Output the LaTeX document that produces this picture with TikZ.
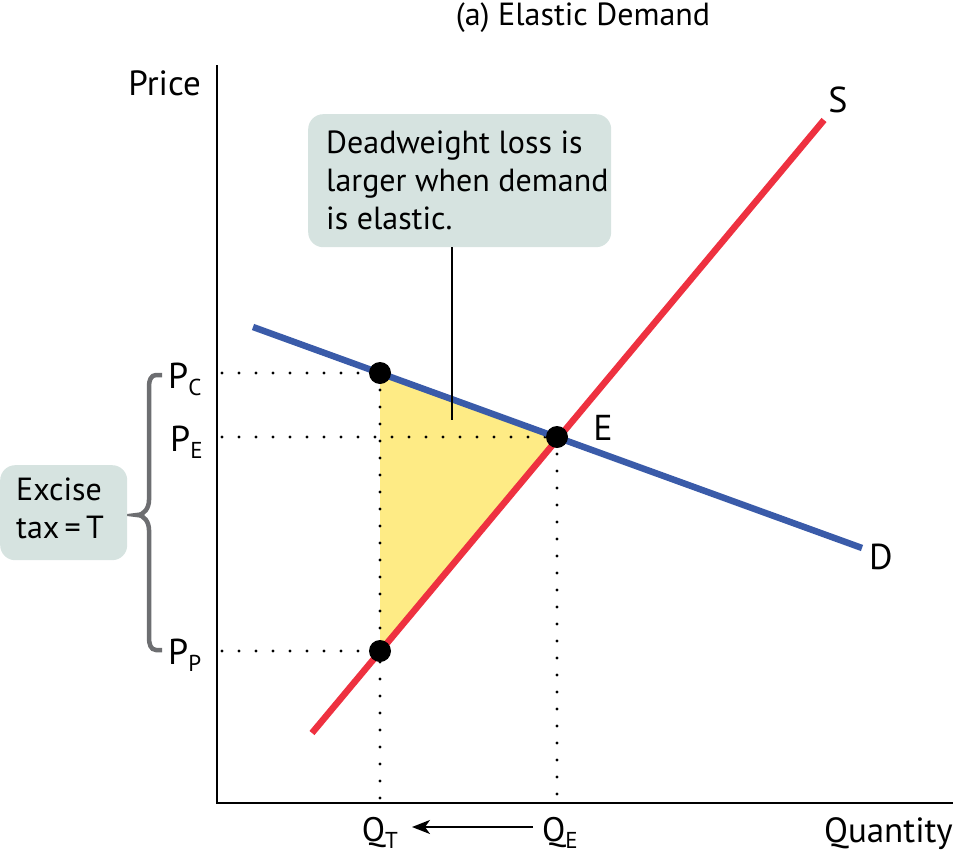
\documentclass[tikz,border=0pt]{standalone}
\usepackage{fontspec}
\setmainfont{PT Sans}
\usetikzlibrary{arrows.meta}
\definecolor{boxfill}{HTML}{D6E3E0}
\definecolor{supred}{HTML}{EE3140}
\definecolor{demblue}{HTML}{3A5BA9}
\definecolor{dwyellow}{HTML}{FEEB85}
\definecolor{bracegray}{HTML}{6D6E71}
\newcommand{\subsc}[1]{\raisebox{-7pt}{\fontsize{23}{24}\selectfont #1}}
\tikzset{
  lbl/.style={font=\fontsize{32}{36}\selectfont, inner sep=0pt},
  biglbl/.style={font=\fontsize{36}{40}\selectfont, inner sep=0pt},
  dotline/.style={line width=3.2pt, line cap=round, dash pattern=on 0pt off 17pt},
  ptdot/.style={circle, fill=black, minimum size=22pt, inner sep=0pt},
  callout/.style={fill=boxfill, rounded corners=15pt, draw=none}
}
\begin{document}
\begin{tikzpicture}[x=1pt,y=-1pt]
\useasboundingbox (0,0) rectangle (954,862);
% title
\node[lbl] (title) at (583,18) {(a) Elastic Demand};
% axes
\coordinate (o) at (217,803);
\coordinate (ytop) at (217,65);
\coordinate (xend) at (953,803);
\draw[line width=1.6pt] (ytop) -- (o) -- (xend);
\node[biglbl, font=\fontsize{35}{40}\selectfont, anchor=base east] (price) at (201,95) {Price};
\node[biglbl, font=\fontsize{35}{40}\selectfont, anchor=base east] (quantity) at (953,842) {Quantity};
% key points
\coordinate (Pc) at (380,373);
\coordinate (E) at (557,437);
\coordinate (Pp) at (380,651);
% triangle
\fill[dwyellow] (Pc) -- (E) -- (Pp) -- cycle;
% dotted lines
\coordinate (yc) at (222,373);
\coordinate (ye) at (222,437);
\coordinate (yp) at (222,651);
\coordinate (qt) at (380,803);
\coordinate (qe) at (557,803);
\draw[dotline] (yc) -- (Pc);
\draw[dotline] (ye) -- (E);
\draw[dotline] (yp) -- (Pp);
\draw[dotline] (Pc) -- (qt);
\draw[dotline] (E) -- (qe);
% curves
\coordinate (S0) at (312,733);
\coordinate (S1) at (824,120);
\coordinate (D0) at (253,327);
\coordinate (D1) at (862,548);
\draw[demblue, line width=6.5pt] (D0) -- (D1);
\draw[supred, line width=6.5pt] (S0) -- (S1);
\node[biglbl, anchor=base] (Slbl) at (838,112) {S};
\node[biglbl, anchor=base] (Dlbl) at (881,569) {D};
\node[biglbl, anchor=base] (Elbl) at (603,440) {E};
% points
\node[ptdot] (pcdot) at (Pc) {};
\node[ptdot] (edot) at (E) {};
\node[ptdot] (ppdot) at (Pp) {};
% callout
\node[callout, minimum width=303pt, minimum height=133pt, anchor=north west] (call) at (308,114) {};
\node[lbl, anchor=north west, align=left, font=\fontsize{32}{38}\selectfont] (calltxt) at (326,131) {Deadweight loss is\\larger when demand\\is elastic.};
\coordinate (calltip) at (452,420);
\draw[line width=1.3pt] (452,247) -- (calltip);
% price labels
\node[biglbl, anchor=base west] (pclbl) at (168,388) {P\subsc{C}};
\node[biglbl, anchor=base west] (pelbl) at (170,451) {P\subsc{E}};
\node[biglbl, anchor=base west] (pplbl) at (168,664) {P\subsc{P}};
% brace
\draw[bracegray, line width=4.5pt, line cap=butt] (162,375) -- (156,375) to[out=180,in=90] (149,386) -- (149,500) to[out=-90,in=0] (137,515) to[out=0,in=90] (149,530) -- (149,638) to[out=-90,in=180] (156,650) -- (162,650);
% excise box
\node[callout, minimum width=127pt, minimum height=95pt, anchor=north west] (excise) at (0,465) {};
\node[lbl, align=left, anchor=north west, font=\fontsize{32}{38}\selectfont] (excisetxt) at (16,478) {Excise\\tax\,=\,T};
% quantity labels
\node[biglbl, font=\fontsize{34}{38}\selectfont, anchor=base] (qtlbl) at (380,841) {Q\subsc{T}};
\node[biglbl, font=\fontsize{34}{38}\selectfont, anchor=base] (qelbl) at (560,841) {Q\subsc{E}};
\coordinate (arrs) at (533,827);
\coordinate (arre) at (412,827);
\draw[line width=1.8pt, -{Stealth[length=18pt,width=14pt,inset=5pt]}] (arrs) -- (arre);
\end{tikzpicture}
\end{document}
